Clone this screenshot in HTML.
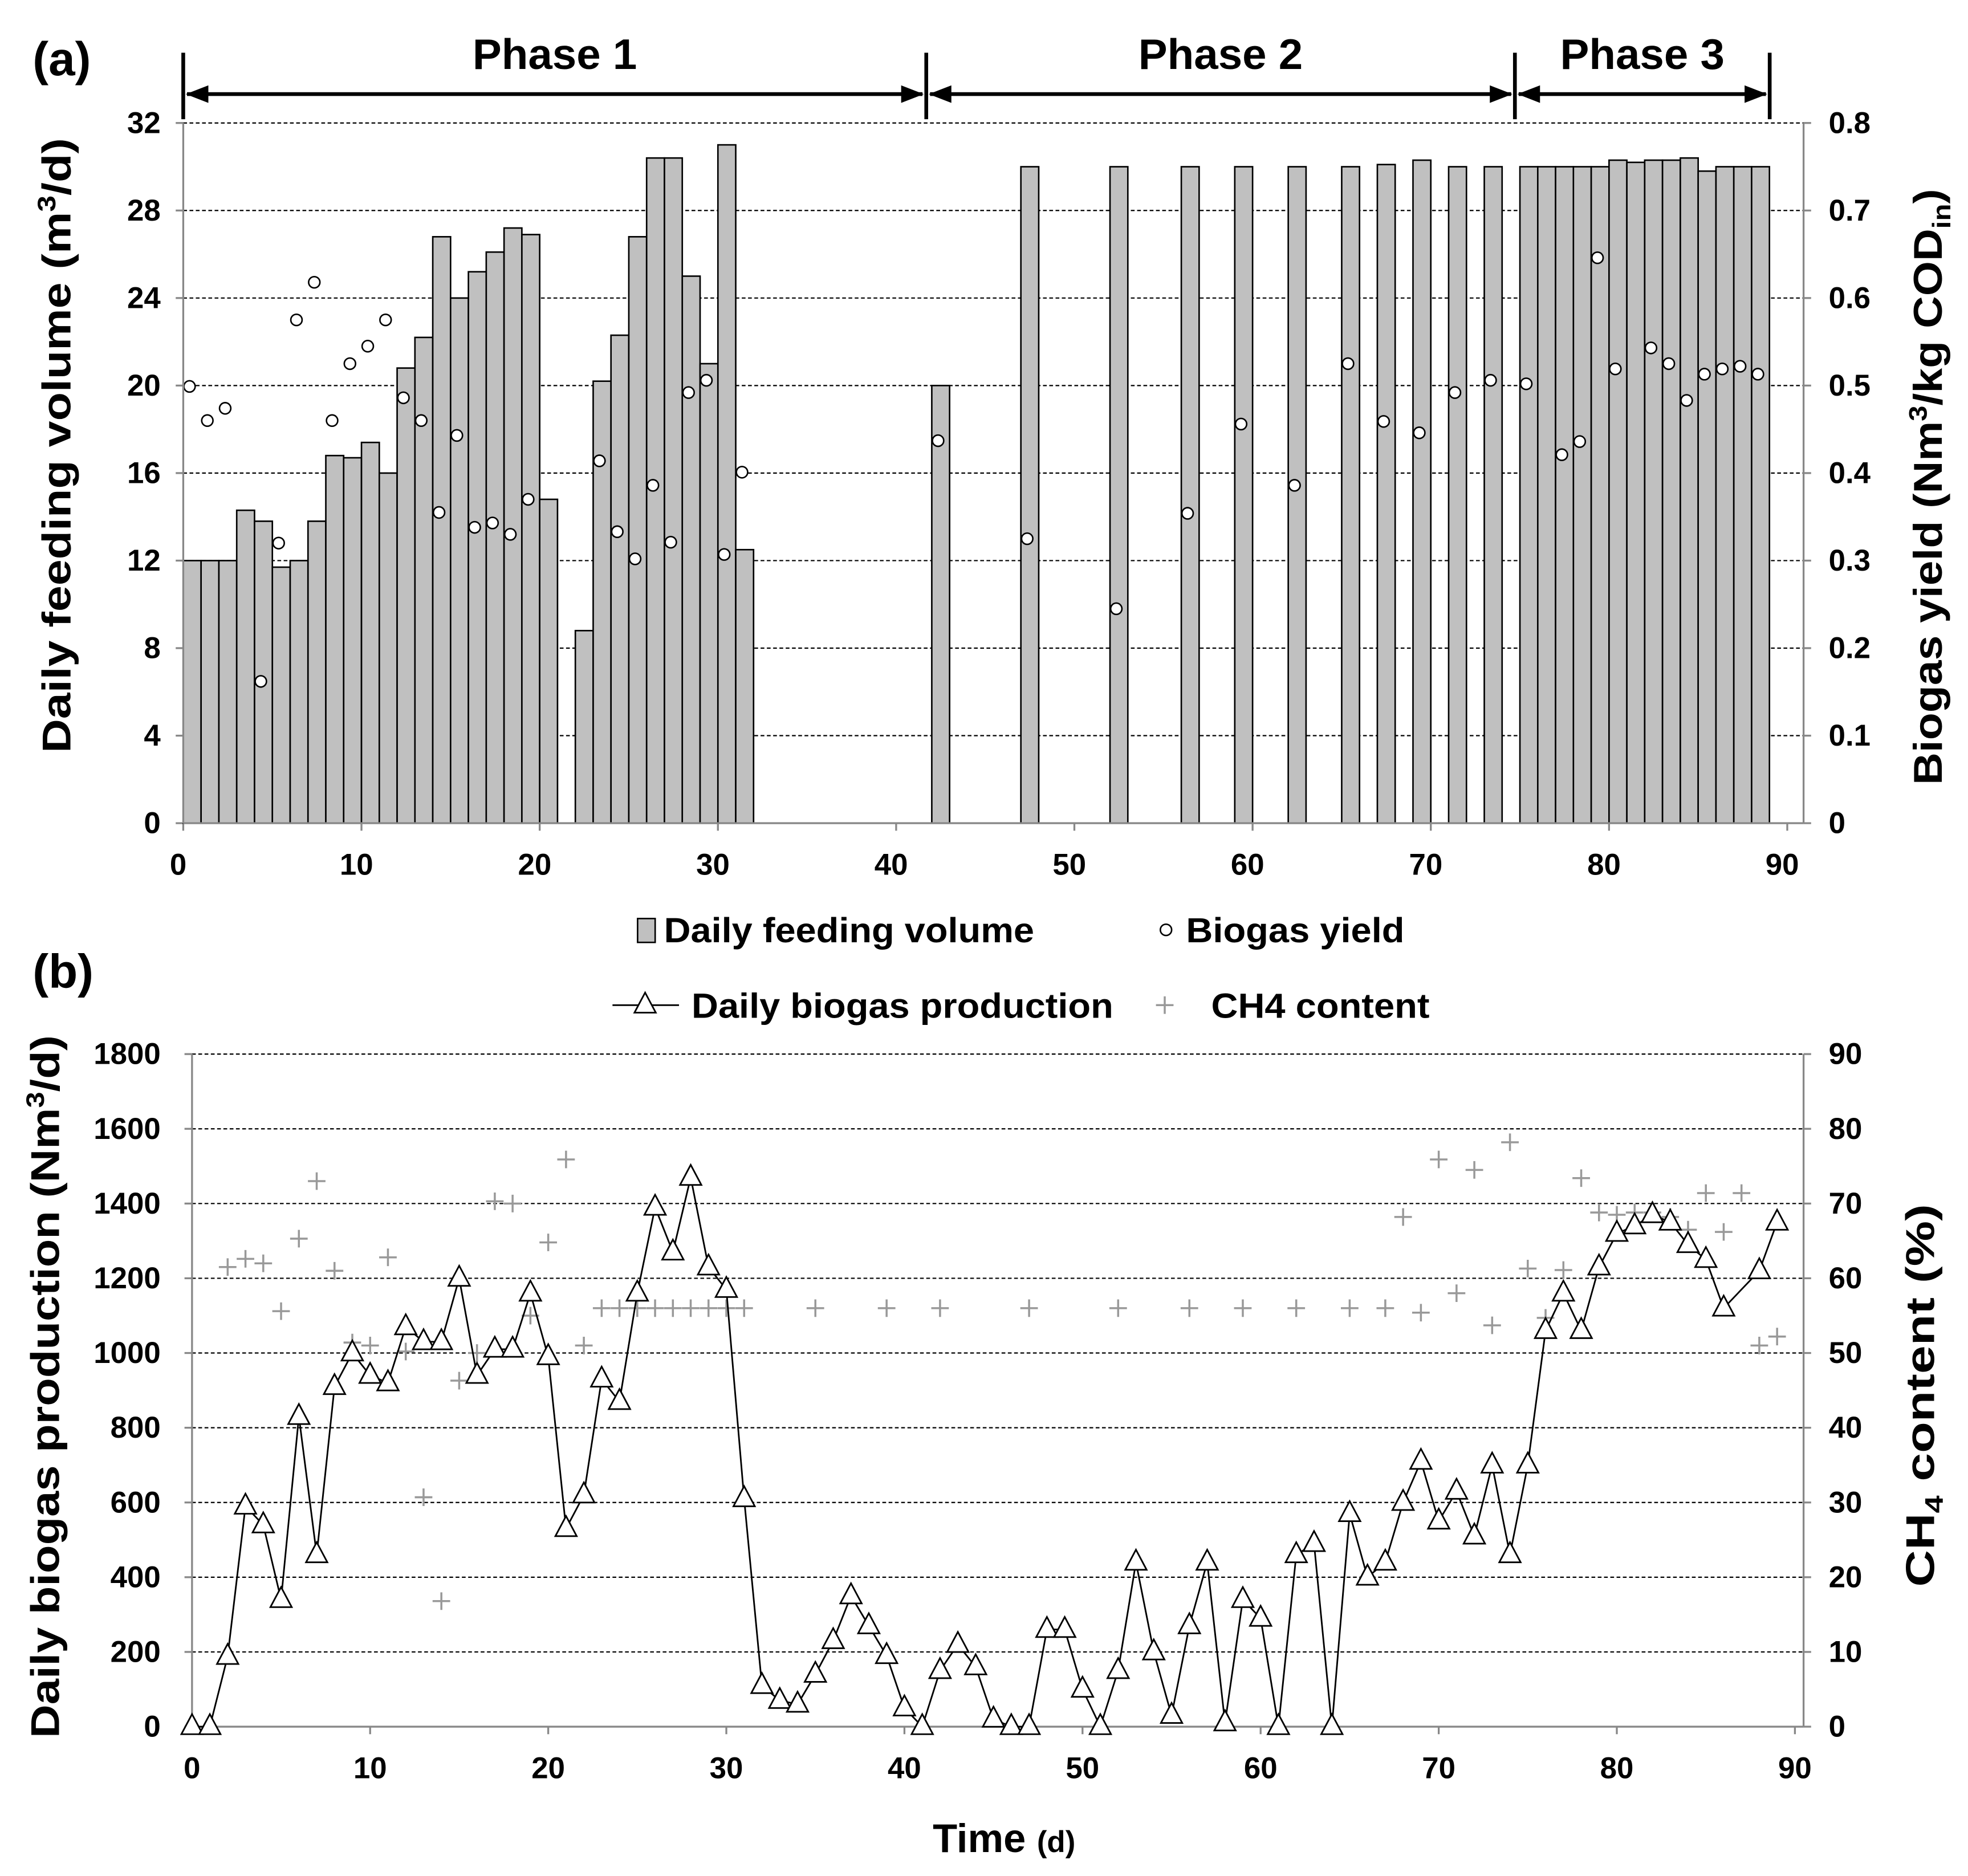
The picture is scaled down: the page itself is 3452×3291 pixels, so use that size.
<!DOCTYPE html>
<html><head><meta charset="utf-8"><style>
html,body{margin:0;padding:0;background:#fff}
svg{display:block}
text{font-family:"Liberation Sans",Arial,sans-serif;font-weight:bold;fill:#000}
</style></head><body>
<svg id="chart" width="3452" height="3291" viewBox="0 0 1568 1495" preserveAspectRatio="none" xmlns="http://www.w3.org/2000/svg"></svg>
<script>
// ---- Panel (a) data ----
const feedDays = [0,1,2,3,4,5,6,7,8,9,10,11,12,13,14,15,16,17,18,19,20,22,23,24,25,26,27,28,29,30,31,42,47,52,56,59,62,65,67,69,71,73,75,76,77,78,79,80,81,82,83,84,85,86,87,88];
const feedVals = [12,12,12,14.3,13.8,11.7,12,13.8,16.8,16.7,17.4,16,20.8,22.2,26.8,24,25.2,26.1,27.2,26.9,14.8,8.8,20.2,22.3,26.8,30.4,30.4,25,21,31,12.5,20,30,30,30,30,30,30,30.1,30.3,30,30,30,30,30,30,30,30.3,30.2,30.3,30.3,30.4,29.8,30,30,30];
const yieldDays = [0,1,2,4,5,6,7,8,9,10,11,12,13,14,15,16,17,18,19,23,24,25,26,27,28,29,30,31,42,47,52,56,59,62,65,67,69,71,73,75,77,78,79,80,82,83,84,85,86,87,88];
const yieldVals = [0.499,0.46,0.474,0.162,0.32,0.575,0.618,0.46,0.525,0.545,0.575,0.486,0.46,0.355,0.443,0.338,0.343,0.33,0.37,0.414,0.333,0.302,0.386,0.321,0.492,0.506,0.307,0.401,0.437,0.325,0.245,0.354,0.456,0.386,0.525,0.459,0.446,0.492,0.506,0.502,0.421,0.436,0.646,0.519,0.543,0.525,0.483,0.513,0.519,0.522,0.513];
const aLeftTicks = [0,4,8,12,16,20,24,28,32];
const aRightTicks = ["0","0.1","0.2","0.3","0.4","0.5","0.6","0.7","0.8"];
const xTicks = [0,10,20,30,40,50,60,70,80,90];
// ---- Panel (b) data ----
const gasDays = [0,1,2,3,4,5,6,7,8,9,10,11,12,13,14,15,16,17,18,19,20,21,22,23,24,25,26,27,28,29,30,31,32,33,34,35,36,37,38,39,40,41,42,43,44,45,46,47,48,49,50,51,52,53,54,55,56,57,58,59,60,61,62,63,64,65,66,67,68,69,70,71,72,73,74,75,76,77,78,79,80,81,82,83,84,85,86,88,89];
const gasVals = [0,0,188,590,540,340,830,460,910,1000,940,920,1070,1030,1030,1200,940,1010,1010,1160,990,530,620,930,870,1160,1390,1270,1470,1230,1170,610,110,70,60,140,230,350,270,190,50,0,150,220,160,20,0,0,260,260,100,0,150,440,200,30,270,440,10,340,290,0,460,490,0,570,400,440,600,710,550,630,510,700,460,700,1060,1160,1060,1230,1320,1340,1370,1350,1290,1250,1120,1220,1350];
const ch4Days = [2,3,4,5,6,7,8,9,10,11,12,13,14,15,16,17,18,19,20,21,22,23,24,25,26,27,28,29,30,31,35,39,42,47,52,56,59,62,65,67,68,69,70,71,72,73,74,75,76,77,78,79,80,81,82,83,84,85,86,87,88,89];
const ch4Vals = [61.5,62.6,62,55.6,65.3,73,61,51.4,51,62.8,50.2,30.7,16.8,46.3,50,70.3,70,55,64.8,75.9,51,56,56,56,56,56,56,56,56,56,56,56,56,56,56,56,56,56,56,56,68.2,55.4,75.9,58,74.5,53.7,78.2,61.3,54.7,61.1,73.4,68.8,68.5,68.8,68.8,68.2,66.5,71.4,66.2,71.4,51,52.2];
const bLeftTicks = [0,200,400,600,800,1000,1200,1400,1600,1800];
const bRightTicks = [0,10,20,30,40,50,60,70,80,90];

const svg = document.getElementById('chart');
const NS = 'http://www.w3.org/2000/svg';
function mk(tag, attrs, parent){const e=document.createElementNS(NS,tag);for(const k in attrs)e.setAttribute(k,attrs[k]);(parent||svg).appendChild(e);return e;}
function txt(s, attrs, parent){const e=mk('text',attrs,parent);e.textContent=s;return e;}

const aX0=146, aDx=14.2, aYb=656, aYt=98, aR=1437;
const ax = d => aX0 + d*aDx;
const ayL = v => aYb - v/32*(aYb-aYt);
const ayR = v => aYb - v/0.8*(aYb-aYt);
const bX0=153, bDx=14.19, bYb=1376, bYt=840, bR=1437;
const bx = d => bX0 + d*bDx;
const byL = v => bYb - v/1800*(bYb-bYt);
const byR = v => bYb - v/90*(bYb-bYt);

// ===== Panel a =====
const ga = mk('g',{});


aLeftTicks.forEach((t,i)=>{
  if(i>0){const g=mk('line',{x1:aX0,x2:aR,y1:ayL(t),y2:ayL(t),stroke:'#000','stroke-width':1,'stroke-dasharray':'3,2'},ga);
  }
  const l=txt(String(t),{x:128,y:ayL(t)+8,'text-anchor':'end','font-size':24},ga);
  
  mk('line',{x1:aX0-6,x2:aX0,y1:ayL(t),y2:ayL(t),stroke:'#888','stroke-width':1.5},ga);
});
aRightTicks.forEach((t)=>{
  const v=parseFloat(t);
  const l=txt(t,{x:1457,y:ayR(v)+8,'text-anchor':'start','font-size':24},ga);
  
  mk('line',{x1:aR,x2:aR+6,y1:ayR(v),y2:ayR(v),stroke:'#888','stroke-width':1.5},ga);
});
xTicks.forEach(t=>{
  const l=txt(String(t),{x:ax(t)-4,y:697,'text-anchor':'middle','font-size':24},ga);
  
  mk('line',{x1:ax(t),x2:ax(t),y1:aYb,y2:aYb+6,stroke:'#888','stroke-width':1.5},ga);
});
feedDays.forEach((d,i)=>{
  const r=mk('rect',{x:ax(d),y:ayL(feedVals[i]),width:aDx,height:aYb-ayL(feedVals[i]),fill:'#c0c0c0',stroke:'#000','stroke-width':1.2},ga);
  
});
yieldDays.forEach((d,i)=>{
  const c=mk('circle',{cx:ax(d)+5,cy:ayR(yieldVals[i]),r:4.5,fill:'#fff',stroke:'#000','stroke-width':1.2},ga);
  
});
mk('line',{x1:aX0,x2:aX0,y1:aYt,y2:aYb,stroke:'#888','stroke-width':1.5},ga);
mk('line',{x1:aR,x2:aR,y1:aYt,y2:aYb,stroke:'#888','stroke-width':1.5},ga);
mk('line',{x1:aX0,x2:aR,y1:aYb,y2:aYb,stroke:'#888','stroke-width':1.5},ga);
</script>
<script>
const phases=[[146,738,'Phase 1'],[738,1207,'Phase 2'],[1207,1410,'Phase 3']];
[146,738,1207,1410].forEach(x=>mk('line',{x1:x,x2:x,y1:42,y2:95,stroke:'#000','stroke-width':3}));
phases.forEach(p=>{
  const l=mk('line',{x1:p[0]+3,x2:p[1]-3,y1:75,y2:75,stroke:'#000','stroke-width':3});
  
  mk('polygon',{points:`${p[0]+2},75 ${p[0]+20},68 ${p[0]+20},82`,fill:'#000'});
  mk('polygon',{points:`${p[1]-2},75 ${p[1]-20},68 ${p[1]-20},82`,fill:'#000'});
  const t=txt(p[2],{x:(p[0]+p[1])/2,y:55,'text-anchor':'middle','font-size':34,textLength:131,lengthAdjust:'spacingAndGlyphs'});
  
});
let e;
e=txt('(a)',{x:26,y:60,'font-size':38});
e=txt('(b)',{x:26,y:787,'font-size':38});
e=mk('text',{transform:'translate(56,355) rotate(-90)','text-anchor':'middle','font-size':32,textLength:490,lengthAdjust:'spacingAndGlyphs'});
e.innerHTML='Daily feeding volume (m<tspan font-size="20" dy="-12">3</tspan><tspan dy="12">/d)</tspan>';

e=mk('text',{transform:'translate(1547,388) rotate(-90)','text-anchor':'middle','font-size':32,textLength:475,lengthAdjust:'spacingAndGlyphs'});
e.innerHTML='Biogas yield (Nm<tspan font-size="20" dy="-12">3</tspan><tspan dy="12">/kg COD</tspan><tspan font-size="20" dy="7">in</tspan><tspan dy="-7">)</tspan>';

e=mk('rect',{x:508,y:732,width:14,height:19,fill:'#c0c0c0',stroke:'#000','stroke-width':1.2});

e=txt('Daily feeding volume',{x:529,y:751,'font-size':28,textLength:295,lengthAdjust:'spacingAndGlyphs'});
e=mk('circle',{cx:929,cy:741,r:4.5,fill:'#fff',stroke:'#000','stroke-width':1.2});
e=txt('Biogas yield',{x:945,y:751,'font-size':28,textLength:174,lengthAdjust:'spacingAndGlyphs'});

// ===== Panel b =====
const gb = mk('g',{});


bLeftTicks.forEach((t,i)=>{
  if(i>0){const g=mk('line',{x1:bX0,x2:bR,y1:byL(t),y2:byL(t),stroke:'#000','stroke-width':1,'stroke-dasharray':'3,2'},gb);
  }
  const l=txt(String(t),{x:128,y:byL(t)+8,'text-anchor':'end','font-size':24},gb);
  
  mk('line',{x1:bX0-6,x2:bX0,y1:byL(t),y2:byL(t),stroke:'#888','stroke-width':1.5},gb);
});
bRightTicks.forEach(t=>{
  const l=txt(String(t),{x:1457,y:byR(t)+8,'text-anchor':'start','font-size':24},gb);
  
  mk('line',{x1:bR,x2:bR+6,y1:byR(t),y2:byR(t),stroke:'#888','stroke-width':1.5},gb);
});
xTicks.forEach(t=>{
  const l=txt(String(t),{x:bx(t),y:1417,'text-anchor':'middle','font-size':24},gb);
  
  mk('line',{x1:bx(t),x2:bx(t),y1:bYb,y2:bYb+6,stroke:'#888','stroke-width':1.5},gb);
});
mk('line',{x1:bX0,x2:bX0,y1:bYt,y2:bYb,stroke:'#888','stroke-width':1.5},gb);
mk('line',{x1:bR,x2:bR,y1:bYt,y2:bYb,stroke:'#888','stroke-width':1.5},gb);
mk('line',{x1:bX0,x2:bR,y1:bYb,y2:bYb,stroke:'#888','stroke-width':1.5},gb);
ch4Days.forEach((d,i)=>{
  const x=bx(d), y=byR(ch4Vals[i]);
  const p=mk('path',{d:`M${x-7},${y}H${x+7}M${x},${y-7}V${y+7}`,stroke:'#999','stroke-width':1.6,fill:'none'},gb);
  
});
const pts=gasDays.map((d,i)=>bx(d)+','+byL(gasVals[i])).join(' ');
e=mk('polyline',{points:pts,fill:'none',stroke:'#000','stroke-width':1.3},gb);

function tri(x,y,parent){return mk('polygon',{points:`${x},${y-10} ${x-8.5},${y+6} ${x+8.5},${y+6}`,fill:'#fff',stroke:'#000','stroke-width':1.3},parent);}
gasDays.forEach((d,i)=>{
  const t=tri(bx(d),byL(gasVals[i]),gb);
  
});
e=mk('text',{transform:'translate(47,1105) rotate(-90)','text-anchor':'middle','font-size':32,textLength:560,lengthAdjust:'spacingAndGlyphs'});
e.innerHTML='Daily biogas production (Nm<tspan font-size="20" dy="-12">3</tspan><tspan dy="12">/d)</tspan>';

e=mk('text',{transform:'translate(1541,1112) rotate(-90)','text-anchor':'middle','font-size':32,textLength:305,lengthAdjust:'spacingAndGlyphs'});
e.innerHTML='CH<tspan font-size="20" dy="7">4</tspan><tspan dy="-7"> content (%)</tspan>';

e=mk('text',{x:800,y:1476,'text-anchor':'middle','font-size':32});
e.innerHTML='Time <tspan font-size="24">(d)</tspan>';

mk('line',{x1:488,x2:541,y1:801,y2:801,stroke:'#000','stroke-width':1.3});
e=tri(514,801);
e=txt('Daily biogas production',{x:551,y:811,'font-size':28,textLength:336,lengthAdjust:'spacingAndGlyphs'});
mk('path',{d:'M921,801H935M928,794V808',stroke:'#999','stroke-width':1.6});
e=txt('CH4 content',{x:965,y:811,'font-size':28,textLength:174,lengthAdjust:'spacingAndGlyphs'});
</script>
</body></html>
